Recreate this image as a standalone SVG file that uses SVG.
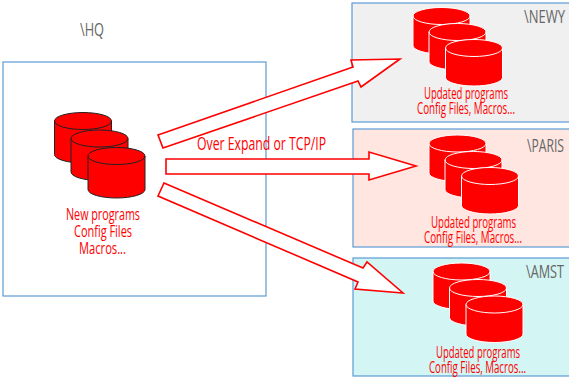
<svg xmlns="http://www.w3.org/2000/svg" width="569" height="379" viewBox="0 0 569 379">
<style>
.box{stroke:#5b9bd5;stroke-width:1.2}
.arrow{fill:#fff;stroke:#f00;stroke-width:1.6;stroke-linejoin:miter}
text{font-family:"Open Sans","Liberation Sans",sans-serif}
.r{fill:#f00;font-size:15.500px}
.g{fill:#666;font-size:19px}
.lbl{font-size:18px}
</style>
<defs>
<g id="blk"><path fill="#f00" stroke="#222" d="M0 8.500A28.500 8.500 0 0 1 57 8.500V42A28.500 8.500 0 0 1 0 42Z"/><path fill="none" stroke="#222" d="M0 8.500A28.500 8.500 0 0 0 57 8.500"/></g>
<g id="wht"><path fill="#f00" stroke="#fff" d="M0 8.500A28.500 8.500 0 0 1 57 8.500V38A28.500 8.500 0 0 1 0 38Z"/><path fill="none" stroke="#fff" d="M0 8.500A28.500 8.500 0 0 0 57 8.500"/></g>
</defs>
<g id="node-hq">
<rect class="box" x="3" y="62" width="263" height="234" fill="#fff"/>
<text class="g" transform="translate(80 36) scale(.7 1)" textLength="34.300" lengthAdjust="spacingAndGlyphs">\HQ</text>
<use href="#blk" x="54.500" y="112.500"/>
<use href="#blk" x="71" y="130"/>
<use href="#blk" x="88" y="147.500"/>
<text class="r" transform="translate(66 220) scale(.6 1)" textLength="123.300" lengthAdjust="spacingAndGlyphs">New programs</text>
<text class="r" transform="translate(74 237) scale(.6 1)" textLength="96.700" lengthAdjust="spacingAndGlyphs">Config Files</text>
<text class="r" transform="translate(79 254) scale(.6 1)" textLength="78.300" lengthAdjust="spacingAndGlyphs">Macros...</text>
</g>
<g id="node-newy">
<rect class="box" x="352" y="3" width="218" height="119" fill="#f0f0f0"/>
<text class="g" transform="translate(524 23) scale(.7 1)" textLength="58.600" lengthAdjust="spacingAndGlyphs">\NEWY</text>
<use href="#wht" x="413" y="7.500"/>
<use href="#wht" x="429" y="23.500"/>
<use href="#wht" x="445.500" y="39.500"/>
<text class="r" transform="translate(424 99) scale(.6 1)" textLength="140" lengthAdjust="spacingAndGlyphs">Updated programs</text>
<text class="r" transform="translate(417 114) scale(.6 1)" textLength="163.300" lengthAdjust="spacingAndGlyphs">Config Files, Macros...</text>
</g>
<g id="node-paris">
<rect class="box" x="353" y="129" width="217" height="118" fill="#ffe6e1"/>
<text class="g" transform="translate(527 152) scale(.7 1)" textLength="52.900" lengthAdjust="spacingAndGlyphs">\PARIS</text>
<use href="#wht" x="429" y="135"/>
<use href="#wht" x="445" y="151.500"/>
<use href="#wht" x="461.500" y="167.500"/>
<text class="r" transform="translate(431 228) scale(.6 1)" textLength="141.700" lengthAdjust="spacingAndGlyphs">Updated programs</text>
<text class="r" transform="translate(424 243) scale(.6 1)" textLength="163.300" lengthAdjust="spacingAndGlyphs">Config Files, Macros...</text>
</g>
<g id="node-amst">
<rect class="box" x="353" y="258" width="217" height="118" fill="#d3f5f4"/>
<text class="g" transform="translate(526 278) scale(.7 1)" textLength="54.300" lengthAdjust="spacingAndGlyphs">\AMST</text>
<use href="#wht" x="433" y="263"/>
<use href="#wht" x="449.500" y="279.500"/>
<use href="#wht" x="466" y="296"/>
<text class="r" transform="translate(436 358) scale(.6 1)" textLength="140" lengthAdjust="spacingAndGlyphs">Updated programs</text>
<text class="r" transform="translate(429 373) scale(.6 1)" textLength="161.700" lengthAdjust="spacingAndGlyphs">Config Files, Macros...</text>
</g>
<g id="connectors">
<polygon class="arrow" points="158,135 353,67 351,60 400,59 361,87 358,81 163,148"/>
<polygon class="arrow" points="166,159 369,159 369,152 416,166 369,180 369,174 166,174"/>
<polygon class="arrow" points="164,183 363,268 367,262 403,293 355,289 358,282 158,196"/>
<text id="link-label" class="r lbl" transform="translate(197 150) scale(.65 1)" textLength="198.500" lengthAdjust="spacingAndGlyphs">Over Expand or TCP/IP</text>
</g>
</svg>
